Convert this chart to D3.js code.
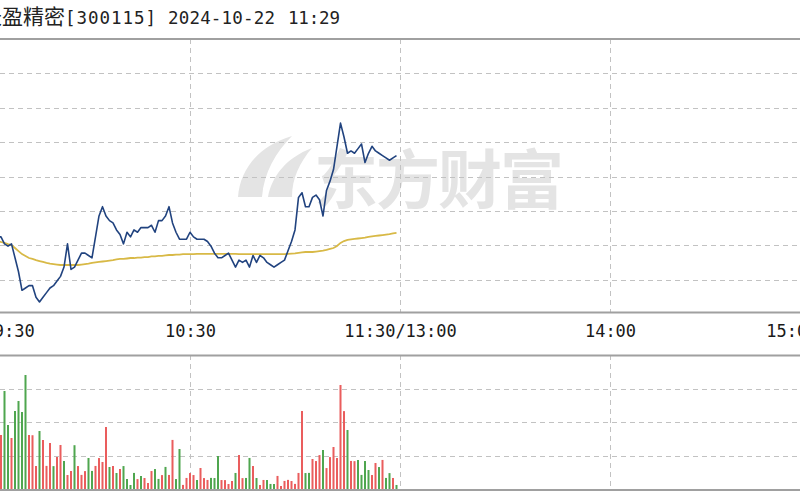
<!DOCTYPE html>
<html><head><meta charset="utf-8">
<script src="https://cdn.jsdelivr.net/npm/d3@7"></script>
<style>html,body{margin:0;padding:0;background:#fff;overflow:hidden}</style>
</head><body><svg id="c" width="800" height="500"></svg>
<script>
// ---------------- data ----------------
const stockName = "长盈精密";
const stockCode = "300115";
const tradeDate = "2024-10-22";
const tradeTime = "11:29";
const timeLabels = ["09:30", "10:30", "11:30/13:00", "14:00", "15:00"];
const timeLabelMinutes = [0, 60, 120, 180, 240];
const prevClose = 14.80;
// minute prices from 09:30 (index 0) to 11:29 (index 119)
const price = [
14.59,14.57,14.58,14.55,14.56,14.54,
14.54,14.51,14.50,14.51,14.45,14.39,14.31,14.32,14.33,14.33,
14.28,14.26,14.28,14.30,14.32,14.33,14.35,14.37,14.41,14.51,
14.40,14.41,14.44,14.47,14.47,14.46,14.45,14.54,14.63,14.67,
14.63,14.61,14.60,14.57,14.55,14.51,14.56,14.54,14.57,14.56,
14.58,14.58,14.58,14.59,14.56,14.61,14.61,14.63,14.67,14.60,
14.56,14.53,14.53,14.53,14.56,14.54,14.53,
14.53,14.53,14.52,14.50,14.47,14.45,14.45,14.46,14.47,14.44,
14.41,14.44,14.43,14.44,14.41,14.46,14.43,14.46,14.45,14.43,
14.42,14.41,14.42,14.43,14.44,14.48,14.52,14.57,14.71,14.73,
14.67,14.67,14.71,14.72,14.70,14.63,14.74,14.78,14.83,14.93,
15.03,14.97,14.90,14.91,14.90,14.92,14.94,14.86,14.90,14.93,
14.91,14.90,14.89,14.88,14.87,14.88,14.89
];
const avgPrice = [
14.548,14.540,14.535,14.531,14.527,14.522,
14.518,14.514,14.509,14.505,14.492,14.479,14.466,14.458,14.449,14.445,
14.440,14.436,14.432,14.428,14.425,14.423,14.421,14.419,14.419,14.419,
14.419,14.419,14.419,14.421,14.423,14.425,14.428,14.430,14.432,14.434,
14.436,14.438,14.440,14.443,14.445,14.445,14.447,14.449,14.449,14.451,
14.451,14.453,14.453,14.456,14.456,14.458,14.458,14.460,14.462,14.462,
14.464,14.464,14.466,14.466,14.466,14.466,14.467,
14.467,14.467,14.467,14.467,14.467,14.467,14.467,14.467,14.467,14.467,
14.467,14.466,14.466,14.466,14.466,14.466,14.466,14.466,14.466,14.466,
14.466,14.466,14.466,14.466,14.466,14.467,14.468,14.469,14.471,14.473,
14.475,14.475,14.475,14.477,14.479,14.481,14.484,14.488,14.492,14.501,
14.514,14.522,14.527,14.529,14.531,14.533,14.535,14.537,14.540,14.542,
14.544,14.546,14.548,14.550,14.552,14.555,14.557
];
const volume = [
7200,5400,4800,3900,4500,3600,
3224,5851,3821,3045,4657,5254,4597,6806,3224,3210,
1373,3463,2925,1380,2746,1365,1910,2627,1672,836,
1075,2615,1370,842,1068,1851,1080,1376,1846,1612,
3701,1313,1373,955,1194,1369,597,239,960,590,
776,657,358,1072,1190,601,830,1318,839,2930,
594,2388,245,660,951,833,537,
1254,652,540,663,655,1970,535,531,299,478,
957,2030,650,659,1853,1372,656,238,539,536,
302,297,780,179,481,544,476,305,958,4657,
953,962,1791,1668,2026,2328,1250,1905,2507,1849,
6209,4650,3522,1675,1664,1731,841,1670,1134,834,
1552,1310,1735,661,949,658,241
];
// R = up minute (red), G = down minute (green)
const volumeDir = "GGRGRG" + "RGGRGGGGRR" + "RGRRRGRRGR" + "RGRRRGGRRR" + "RGRGRGGGGR" +
  "GRRRGGRGRR" + "GGRRRRG" + "RRRGGGRRRR" + "GRRGGRGRRG" + "GGRRRRRRRR" +
  "GGRRRGRRRR" + "RRGRRGGGGR" + "RGRGGRG";
const priceGridPct = [-3, -2, -1, 0, 1, 2, 3];
const volumeGrid = [2000, 4000, 6000];
const watermarkText = "东方财富";

// ---------------- drawing ----------------
const svg = d3.select("#c");
const W = 800;
const x = d3.scaleLinear().domain([0, 240]).range([-20, 820]);
const y = d3.scaleLinear().domain([prevClose * 0.96, prevClose * 1.04]).range([314, 39]);
const yv = d3.scaleLinear().domain([0, 8000]).range([489, 355]);

const gridColor = "#c2c2c2";
const frameColor = "#a0a0a0";

// watermark
const wm = svg.append("g").attr("fill", "#e4e4e4");
wm.append("path").attr("d", "M238,197 C240,170 258,146 292,136 C276,152 264,172 262,197 Z");
wm.append("path").attr("d", "M268,197 C272,176 286,158 312,148 C300,162 292,178 292,197 Z");
wm.append("text").attr("x", 314).attr("y", 203)
  .attr("font-family", "'Noto Sans CJK SC', sans-serif").attr("font-weight", 700)
  .attr("font-size", 64).attr("letter-spacing", -2).text(watermarkText);

// horizontal price grid
svg.append("g").selectAll("line").data(priceGridPct).join("line")
  .attr("x1", 0).attr("x2", W)
  .attr("y1", d => Math.round(y(prevClose * (1 + d / 100))) + 0.5)
  .attr("y2", d => Math.round(y(prevClose * (1 + d / 100))) + 0.5)
  .attr("stroke", gridColor).attr("stroke-dasharray", "5,4");

// horizontal volume grid
svg.append("g").selectAll("line").data(volumeGrid).join("line")
  .attr("x1", 0).attr("x2", W)
  .attr("y1", d => Math.round(yv(d)) + 0.5).attr("y2", d => Math.round(yv(d)) + 0.5)
  .attr("stroke", gridColor).attr("stroke-dasharray", "5,4");

// vertical grid (both panels)
const vTicks = timeLabelMinutes.slice(1, -1);
[[39, 312], [355, 489]].forEach(([a, b]) => {
  svg.append("g").selectAll("line").data(vTicks).join("line")
    .attr("x1", d => Math.round(x(d)) + 0.5).attr("x2", d => Math.round(x(d)) + 0.5)
    .attr("y1", a).attr("y2", b)
    .attr("stroke", gridColor).attr("stroke-dasharray", "5,4");
});

// frame lines
[39, 312.5, 355.5, 490].forEach(v => {
  svg.append("line").attr("x1", 0).attr("x2", W).attr("y1", v).attr("y2", v)
    .attr("stroke", frameColor).attr("stroke-width", 2);
});

// volume bars
svg.append("g").selectAll("rect").data(volume).join("rect")
  .attr("x", (d, i) => x(i) - 1).attr("width", 2)
  .attr("y", d => yv(d)).attr("height", d => yv(0) - yv(d))
  .attr("fill", (d, i) => volumeDir[i] === "R" ? "#ea5d5d" : "#4fa64f");

// average price line
svg.append("path").datum(avgPrice)
  .attr("d", d3.line().x((d, i) => x(i)).y(d => y(d)))
  .attr("fill", "none").attr("stroke", "#d8b946").attr("stroke-width", 1.8);

// price line
svg.append("path").datum(price)
  .attr("d", d3.line().x((d, i) => x(i)).y(d => y(d)))
  .attr("fill", "none").attr("stroke", "#21437f").attr("stroke-width", 1.6)
  .attr("stroke-linejoin", "round");

// time axis
const ax = svg.append("g").attr("transform", "translate(0,324)")
  .call(d3.axisBottom(x).tickValues(timeLabelMinutes)
    .tickFormat((d, i) => timeLabels[i]).tickSize(0).tickPadding(0));
ax.select(".domain").remove();
ax.selectAll("text")
  .attr("font-family", "'DejaVu Sans Mono', monospace").attr("font-size", 17)
  .attr("fill", "#1a1a1a").attr("dy", "0.75em")
  .attr("text-anchor", (d, i) => i === 0 ? "start" : (i === timeLabels.length - 1 ? "end" : "middle"))
  .attr("dx", (d, i) => i === 0 ? 3 : (i === timeLabels.length - 1 ? -3 : 0));

// title
const t = svg.append("text").attr("y", 24).attr("fill", "#222");
t.append("tspan").attr("x", -19).attr("font-family", "'Noto Sans CJK SC', sans-serif")
  .attr("font-size", 21).text(stockName);
const mono = "'DejaVu Sans Mono', monospace";
t.append("tspan").attr("x", 65).attr("font-family", mono).attr("font-size", 17.5)
  .attr("textLength", 91).attr("lengthAdjust", "spacing").text("[" + stockCode + "]");
t.append("tspan").attr("x", 168).attr("font-family", mono).attr("font-size", 17.5)
  .attr("textLength", 107).attr("lengthAdjust", "spacing").text(tradeDate);
t.append("tspan").attr("x", 288).attr("font-family", mono).attr("font-size", 17.5)
  .attr("textLength", 52).attr("lengthAdjust", "spacing").text(tradeTime);
</script>
</body></html>
